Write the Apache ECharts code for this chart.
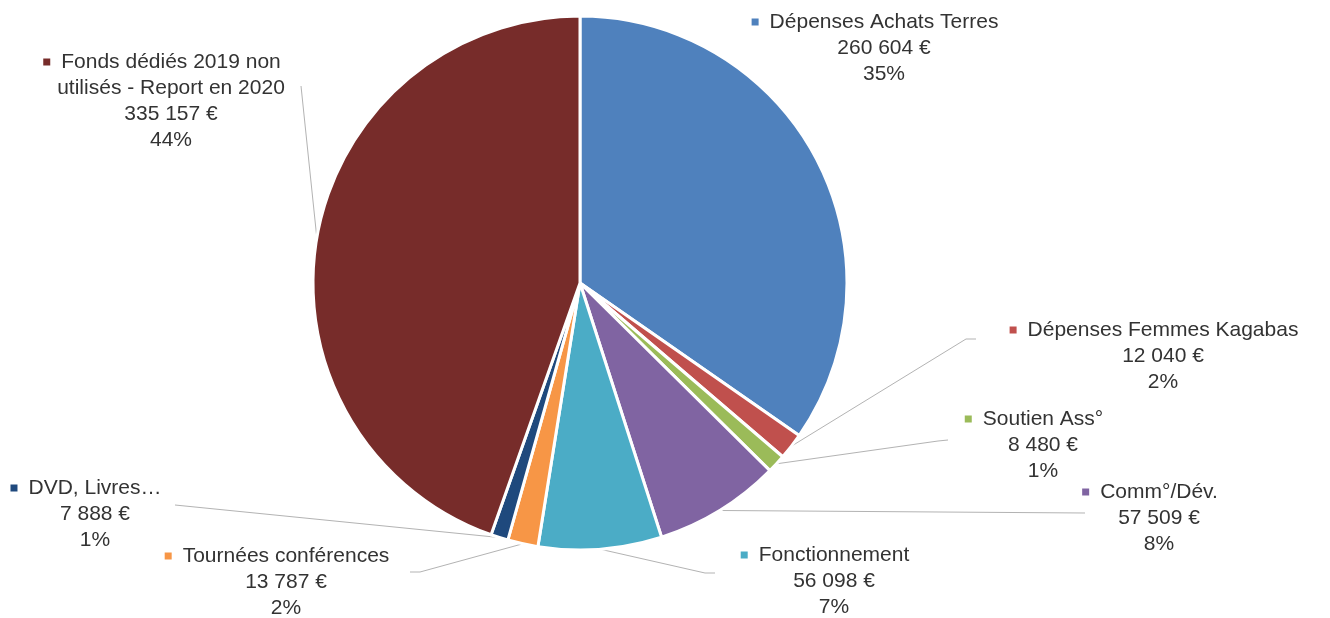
<!DOCTYPE html>
<html><head><meta charset="utf-8">
<script src="https://cdn.jsdelivr.net/npm/echarts@6/dist/echarts.min.js"></script>
<style>html,body{margin:0;padding:0;background:#fff}#c{width:1330px;height:618px}</style>
</head><body><div id="c"></div>
<script>
const categories = ['Dépenses Achats Terres','Dépenses Femmes Kagabas','Soutien Ass°','Comm°/Dév.','Fonctionnement','Tournées conférences','DVD, Livres…','Fonds dédiés 2019 non\nutilisés - Report en 2020'];
const values = [260604, 12040, 8480, 57509, 56098, 13787, 7888, 335157];
const percentLabels = ['35%','2%','1%','8%','7%','2%','1%','44%'];
const colors = ['#4F81BD','#C0504D','#9BBB59','#8064A2','#4BACC6','#F79646','#1F497D','#772C2A'];

// label layout (center x of text block, top y) and leader-line end points
const labelPos = [[884,9],[1163,317],[1043,406],[1159,479],[834,542],[286,543],[95,475],[171,49]];
const lineEnds = [null, [[966,339],[976,339]], [[938,441],[948,440]], [[1085,513]], [[705,573],[715,573]], [[420,572],[410,572]], [[175,505]], [[301,86]]];

function fmtAmount(v){ return String(v).replace(/\B(?=(\d{3})+(?!\d))/g,' ') + ' €'; }

const chart = echarts.init(document.getElementById('c'), null, {renderer:'canvas'});
const rich = {
  n:{fontFamily:'Liberation Sans, Arial, sans-serif', fontSize:21, color:'#333333', lineHeight:26},
  g:{width:11, height:7},
  s:{width:18, height:7}
};
colors.forEach((c,i)=>{ rich['m'+i] = {width:7, height:7, backgroundColor:c}; });

const data = categories.map((name,i)=>{
  const parts = name.split('\n');
  let f = '{m'+i+'|}{g|}{n|'+parts[0]+'}{s|}';
  for (let k=1;k<parts.length;k++) f += '\n{n|'+parts[k]+'}';
  f += '\n{n|'+fmtAmount(values[i])+'}\n{n|'+percentLabels[i]+'}';
  return {
    name: name, value: values[i],
    itemStyle:{color:colors[i]},
    label:{formatter:f},
    labelLine:{show: i !== 0}
  };
});

chart.setOption({
  animation:false,
  backgroundColor:'#fff',
  series:[{
    type:'pie',
    center:[580,283],
    radius:[0,267],
    startAngle:90,
    clockwise:true,
    avoidLabelOverlap:false,
    itemStyle:{borderColor:'#fff', borderWidth:3},
    label:{show:true, position:'outside', align:'center', rich:rich, fontFamily:'Liberation Sans, Arial, sans-serif', fontSize:21, color:'#333333', lineHeight:26},
    labelLine:{show:true, length:10, length2:10, lineStyle:{color:'#b3b3b3', width:1}},
    labelLayout:function(p){
      const i = p.dataIndex;
      const res = {x:labelPos[i][0], y:labelPos[i][1], align:'center', verticalAlign:'top'};
      if (lineEnds[i] && p.labelLinePoints) {
        const pts = [p.labelLinePoints[0].slice()].concat(lineEnds[i].map(q=>q.slice()));
        if (pts.length === 2) pts.splice(1,0,pts[1].slice());
        res.labelLinePoints = pts;
      }
      return res;
    },
    data:data
  }]
});
</script>
</body></html>
